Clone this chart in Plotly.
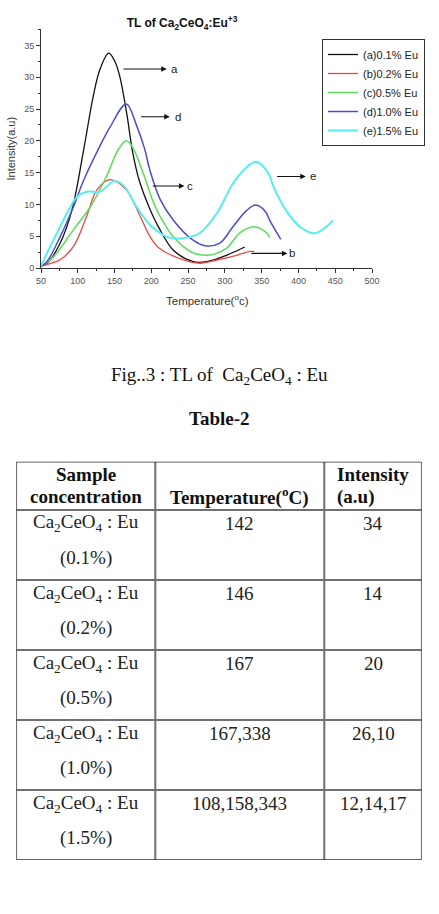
import plotly.graph_objects as go
from itertools import accumulate

W, H = 439, 914

# ---------------- data ----------------
series_names = ["(a)0.1% Eu", "(b)0.2% Eu", "(c)0.5% Eu", "(d)1.0% Eu", "(e)1.5% Eu"]
series_colors = ["#111111", "#ee4444", "#5cdc5c", "#4c4cd2", "#55eeee"]
series_widths = [1.3, 1.3, 1.5, 1.5, 2.0]

a_x = [50, 58, 76, 92, 108, 121, 130, 142, 150, 157, 167, 174, 184, 198, 210, 230, 257, 275, 302, 327]
a_y = [0.3, 0.7, 3.9, 9.1, 18.6, 27.0, 31.2, 33.8, 32.6, 30.2, 24.0, 18.6, 13.6, 9.3, 6.4, 2.8, 1.0, 1.0, 2.0, 3.3]

b_x = [50, 60, 76, 94, 112, 126, 144, 166, 185, 198, 210, 244, 266, 289, 316, 334, 340]
b_y = [0.3, 0.6, 1.3, 3.35, 8.1, 12.3, 13.9, 12.3, 8.1, 5.0, 3.2, 1.26, 0.75, 1.26, 2.0, 2.6, 2.6]

c_x = [50, 60, 71, 94, 117, 139, 155, 166, 175, 189, 203, 212, 230, 253, 275, 302, 320, 339, 357, 361]
c_y = [0.3, 1.0, 2.3, 6.0, 9.6, 14.4, 18.6, 20.0, 18.9, 14.9, 10.3, 8.1, 4.9, 2.6, 2.0, 3.1, 5.5, 6.5, 5.5, 4.8]

d_x = [50, 58, 76, 94, 108, 128, 144, 166, 180, 191, 198, 212, 230, 253, 273, 293, 311, 330, 342, 355, 361, 376]
d_y = [0.3, 1.0, 4.9, 9.6, 13.8, 18.7, 22.2, 25.8, 22.4, 18.7, 15.4, 10.8, 7.5, 4.7, 3.5, 3.9, 6.5, 9.1, 9.9, 8.9, 7.5, 4.5]

e_x = [50, 58, 76, 89, 99, 112, 130, 150, 162, 180, 198, 212, 221, 244, 266, 289, 311, 330, 343, 359, 366, 384, 402, 422, 438, 447]
e_y = [0.3, 2.3, 6.5, 9.4, 11.2, 12.0, 12.0, 13.7, 13.0, 9.6, 6.8, 5.5, 4.9, 4.7, 5.5, 8.6, 13.3, 15.9, 16.7, 14.9, 12.8, 8.9, 6.5, 5.45, 6.5, 7.5]

series_x = [a_x, b_x, c_x, d_x, e_x]
series_y = [a_y, b_y, c_y, d_y, e_y]

# curve labels with arrows (data coords)
arrow_labels = ["a", "d", "c", "e", "b"]
arrow_tail_x = [160, 184, 200, 369, 334]
arrow_head_x = [221, 225, 245, 410, 385]
arrow_y = [31.3, 23.8, 12.9, 14.4, 2.3]
label_x = [232, 236, 252, 420, 391]

# table content
tbl_header_l1 = ["Sample", "", "Intensity"]
tbl_header_l2 = ["concentration", "Temperature(<sup>o</sup>C)", "(a.u)"]
tbl_conc = ["0.1%", "0.2%", "0.5%", "1.0%", "1.5%"]
tbl_temp = ["142", "146", "167", "167,338", "108,158,343"]
tbl_int = ["34", "14", "20", "26,10", "12,14,17"]

# table geometry (table-axis units = px)
col_widths = [139, 169, 97.4]
header_h = 48.3
row_h = 70.0

# ---------------- figure ----------------
fig = go.Figure()

for name, xs, ys, col, lw in zip(series_names, series_x, series_y, series_colors, series_widths):
    fig.add_trace(go.Scatter(
        x=xs, y=ys, name=name, mode="lines",
        line=dict(color=col, width=lw, shape="spline", smoothing=1.0),
        xaxis="x", yaxis="y",
    ))

annotations = []
shapes = []

# arrows + letters
for lab, tx, hx, ay, lx in zip(arrow_labels, arrow_tail_x, arrow_head_x, arrow_y, label_x):
    annotations.append(dict(
        x=hx, y=ay, ax=tx, ay=ay, xref="x", yref="y", axref="x", ayref="y",
        text="", showarrow=True, arrowhead=2, arrowsize=1, arrowwidth=1.1, arrowcolor="#111111",
    ))
    annotations.append(dict(
        x=lx, y=ay, xref="x", yref="y", text=lab, showarrow=False,
        xanchor="center", yanchor="middle",
        font=dict(family="Liberation Sans", size=11.5, color="#222222"),
    ))

# ---- table drawn on its own hidden axes ----
col_edges = [0] + list(accumulate(col_widths))
n_rows = len(tbl_conc)
row_edges = [0, header_h] + [header_h + row_h * (i + 1) for i in range(n_rows)]
tab_w = col_edges[-1]
tab_h = row_edges[-1]
col_centers = [(col_edges[i] + col_edges[i + 1]) / 2 for i in range(3)]

inner_line = dict(color="#707070", width=2)
for xe in col_edges[1:-1]:
    shapes.append(dict(type="line", xref="x2", yref="y2", x0=xe, x1=xe, y0=0, y1=tab_h, line=inner_line))
for ye in row_edges[1:-1]:
    shapes.append(dict(type="line", xref="x2", yref="y2", x0=0, x1=tab_w, y0=ye, y1=ye, line=inner_line))
shapes.append(dict(type="rect", xref="x2", yref="y2", x0=0, x1=tab_w, y0=0, y1=tab_h,
                   line=dict(color="#333333", width=1.5)))

serif_b = dict(family="Liberation Serif", size=19, color="#111111")
serif = dict(family="Liberation Serif", size=19, color="#222222")

for ci in range(3):
    left = (ci == 2)
    xpos = col_edges[ci] + 10.7 if left else col_centers[ci]
    for txt, off in ((tbl_header_l1[ci], 13.3), (tbl_header_l2[ci], 35.3)):
        if txt:
            annotations.append(dict(text="<b>" + txt + "</b>", x=xpos, y=off, xref="x2", yref="y2",
                                    showarrow=False, xanchor="left" if left else "center",
                                    yanchor="middle", font=serif_b))

for ri in range(n_rows):
    top = row_edges[ri + 1]
    cells = [("Ca<sub>2</sub>CeO<sub>4</sub> : Eu", "(" + tbl_conc[ri] + ")"),
             (tbl_temp[ri], ""), (tbl_int[ri], "")]
    for ci, (l1, l2) in enumerate(cells):
        annotations.append(dict(text=l1, x=col_centers[ci], y=top + 13.5, xref="x2", yref="y2",
                                showarrow=False, xanchor="center", yanchor="middle", font=serif))
        if l2:
            annotations.append(dict(text=l2, x=col_centers[ci], y=top + 48, xref="x2", yref="y2",
                                    showarrow=False, xanchor="center", yanchor="middle", font=serif))

annotations += [
    dict(text="Intensity(a.u)", x=10 / W, y=1 - 148.5 / H, xref="paper", yref="paper",
         textangle=-90, showarrow=False, xanchor="center", yanchor="middle",
         font=dict(family="Liberation Sans", size=11, color="#333333")),
    dict(text="Temperature(<sup>o</sup>c)", x=207 / W, y=1 - 300 / H, xref="paper", yref="paper",
         showarrow=False, xanchor="center", yanchor="middle",
         font=dict(family="Liberation Sans", size=11.5, color="#333333")),
    dict(text="Fig..3 : TL of \u00a0Ca<sub>2</sub>CeO<sub>4</sub> : Eu", x=219 / W, y=1 - 376 / H,
         xref="paper", yref="paper", showarrow=False, xanchor="center", yanchor="middle",
         font=dict(family="Liberation Serif", size=19, color="#111111")),
    dict(text="<b>Table-2</b>", x=219 / W, y=1 - 418 / H,
         xref="paper", yref="paper", showarrow=False, xanchor="center", yanchor="middle",
         font=dict(family="Liberation Serif", size=19, color="#111111")),
]

tab_top_px = 461.7
fig.update_layout(
    width=W, height=H, autosize=False,
    margin=dict(l=0, r=0, t=0, b=0, pad=0, autoexpand=False),
    paper_bgcolor="white", plot_bgcolor="white",
    title=dict(text="<b>TL of Ca<sub>2</sub>CeO<sub>4</sub>:Eu<sup>+3</sup></b>",
               x=182 / W, y=1 - 23 / H, xanchor="center", yanchor="middle", xref="paper", yref="paper",
               font=dict(family="Liberation Sans", size=12, color="#111111")),
    xaxis=dict(domain=[41 / W, 372 / W], anchor="y", range=[50, 500],
               tickmode="linear", tick0=50, dtick=50,
               showline=True, linecolor="#333333", linewidth=1,
               ticks="outside", ticklen=4, tickcolor="#333333",
               minor=dict(dtick=25, ticks="outside", ticklen=2, tickcolor="#333333", showgrid=False),
               showgrid=False, zeroline=False, automargin=False,
               tickfont=dict(family="Liberation Sans", size=9, color="#555555")),
    yaxis=dict(domain=[1 - 268 / H, 1 - 29 / H], anchor="x", range=[0, 37.6],
               tickmode="linear", tick0=0, dtick=5,
               showline=True, linecolor="#333333", linewidth=1,
               ticks="outside", ticklen=4, tickcolor="#333333",
               minor=dict(dtick=2.5, ticks="outside", ticklen=2, tickcolor="#333333", showgrid=False),
               showgrid=False, zeroline=False, automargin=False,
               tickfont=dict(family="Liberation Sans", size=9, color="#555555")),
    xaxis2=dict(domain=[16.3 / W, (16.3 + tab_w) / W], anchor="y2", range=[0, tab_w],
                visible=False, fixedrange=True),
    yaxis2=dict(domain=[1 - (tab_top_px + tab_h) / H, 1 - tab_top_px / H], anchor="x2",
                range=[tab_h, 0], visible=False, fixedrange=True),
    showlegend=True,
    legend=dict(x=322 / W, y=1 - 39 / H, xanchor="left", yanchor="top",
                bordercolor="#333333", borderwidth=1, bgcolor="white",
                font=dict(family="Liberation Sans", size=11, color="#222222"),
                tracegroupgap=0),
    annotations=annotations,
    shapes=shapes,
)

fig.write_html("out.html")
